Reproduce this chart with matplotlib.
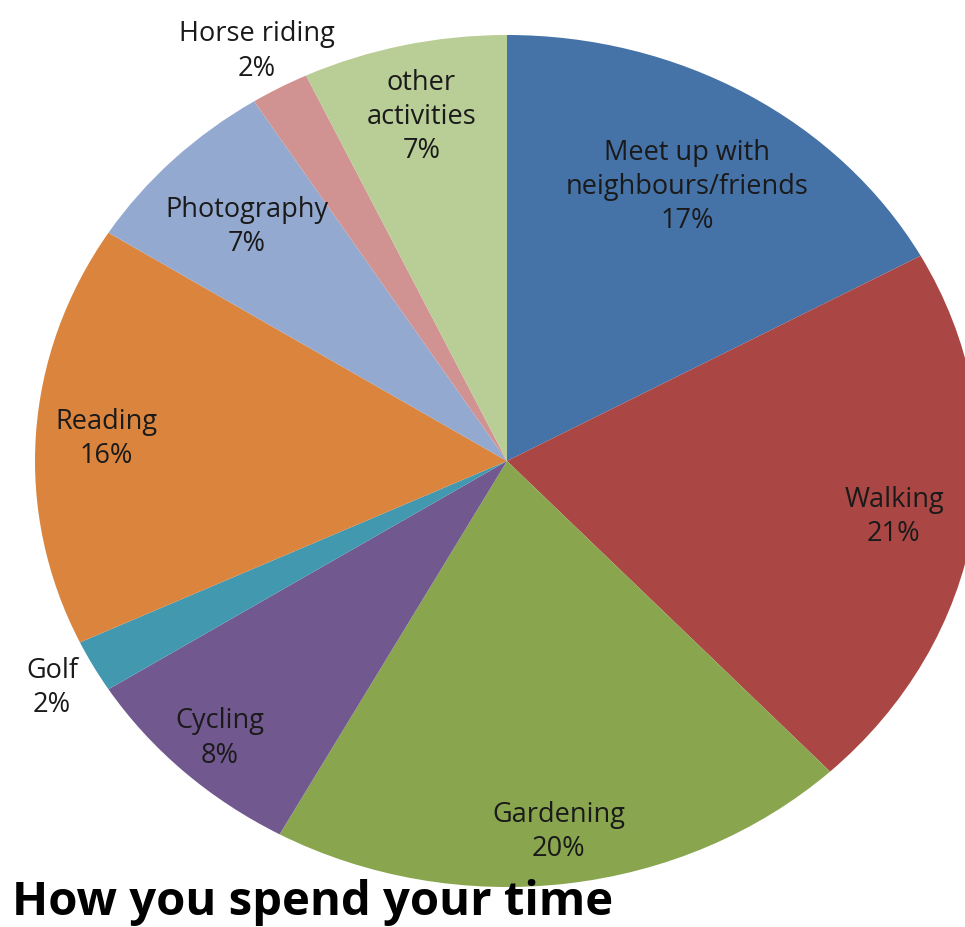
import numpy as np
import matplotlib.pyplot as plt

labels = ["Meet up with\nneighbours/friends", "Walking", "Gardening", "Cycling", "Golf",
          "Reading", "Photography", "Horse riding", "other\nactivities"]
shares = [17, 21, 20, 8, 2, 16, 7, 2, 7]
colors = ["#4572A7", "#AA4643", "#89A54E", "#71588F", "#4198AF",
          "#DB843D", "#93A9CF", "#D19392", "#B9CD96"]
# how far from the centre each label sits (fraction of radius)
label_r = [0.75, 0.83, 0.875, 0.89, 1.10, 0.85, 0.78, 1.10, 0.83]

W, H = 965, 928
fig = plt.figure(figsize=(W / 100, H / 100), dpi=100)
# pie is an ellipse, wider than tall, and runs off the right edge
ax = fig.add_axes([35 / W, 40 / H, 944 / W, 852 / H])
wedges, _ = ax.pie(shares, colors=colors, startangle=90, counterclock=False,
                   wedgeprops=dict(linewidth=0))
ax.set_aspect("auto")
ax.set_xlim(-1, 1)
ax.set_ylim(-1, 1)
ax.axis("off")

for w, lab, val, r in zip(wedges, labels, shares, label_r):
    mid = np.deg2rad((w.theta1 + w.theta2) / 2)
    ax.text(r * np.cos(mid), r * np.sin(mid), f"{lab}\n{val}%",
            ha="center", va="center", fontsize=19.5, color="#1a1a1a",
            family="Open Sans", linespacing=1.3, clip_on=False)

fig.text(12 / W, 1 - 903 / H, "How you spend your time", fontsize=34,
         fontweight="bold", family="Open Sans", va="center", ha="left")

fig.savefig("out.png", dpi=100)
